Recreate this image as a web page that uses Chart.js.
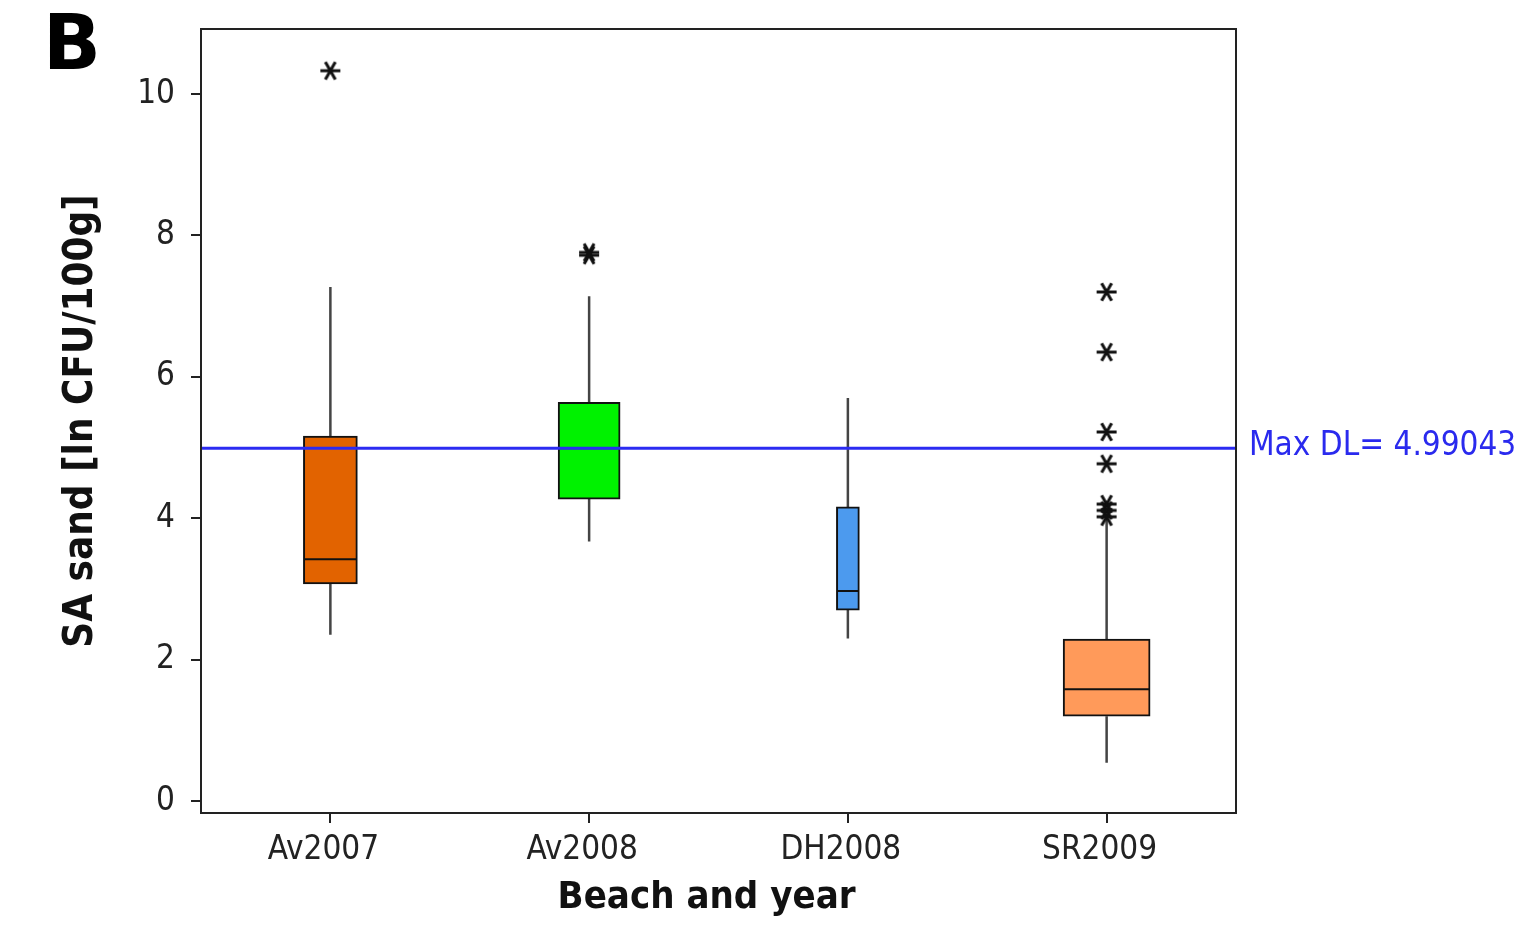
<!DOCTYPE html>
<html>
<head>
<meta charset="utf-8">
<script src="https://cdn.jsdelivr.net/npm/chart.js@4.4.0/dist/chart.umd.min.js"></script>
<style>
  html, body { margin: 0; padding: 0; background: #fff; }
  #wrap { width: 1536px; height: 925px; }
</style>
</head>
<body>
<div id="wrap"><canvas id="boxChart"></canvas></div>
<script>
// box plot values (ln CFU/100g) per beach and year
const categories = ['Av2007', 'Av2008', 'DH2008', 'SR2009'];
const whiskerLow = [2.35, 3.67, 2.30, 0.54];
const q1 = [3.07, 4.27, 2.70, 1.20];
const median = [3.42, 4.99, 2.97, 1.58];
const q3 = [5.16, 5.64, 4.16, 2.29];
const whiskerHigh = [7.27, 7.14, 5.70, 3.99];
const outlierCats = ['Av2007', 'Av2008', 'Av2008', 'SR2009', 'SR2009', 'SR2009', 'SR2009', 'SR2009', 'SR2009', 'SR2009'];
const outlierValues = [10.33, 7.76, 7.72, 7.20, 6.35, 5.22, 4.77, 4.20, 4.11, 4.02];
const maxDL = 4.99043;
const yTicks = [0, 2, 4, 6, 8, 10];

// styling
const boxColors = ['#e26300', '#00f200', '#4c9aee', '#ff9a5a'];
const boxThickness = [54, 62, 23, 87];
const fontFamily = "'DejaVu Sans Condensed', 'DejaVu Sans', sans-serif";
const ink = '#222';

// little 6-armed asterisk used for outliers
function makeAsterisk(size) {
    const c = document.createElement('canvas');
    c.width = size;
    c.height = size;
    const g = c.getContext('2d');
    g.strokeStyle = '#111';
    g.lineWidth = 3;
    const r = size / 2 - 2;
    for (let k = 0; k < 3; k++) {
        const a = k * Math.PI / 3;
        g.beginPath();
        g.moveTo(size / 2 - r * Math.cos(a), size / 2 - r * Math.sin(a));
        g.lineTo(size / 2 + r * Math.cos(a), size / 2 + r * Math.sin(a));
        g.stroke();
    }
    return c;
}

const boxDatasets = categories.map((cat, i) => ({
    type: 'bar',
    label: cat,
    data: categories.map((c, j) => j === i ? [q1[i], q3[i]] : null),
    backgroundColor: boxColors[i],
    borderColor: '#111',
    borderWidth: 2,
    borderSkipped: false,
    barThickness: boxThickness[i],
    grouped: false
}));

const outlierData = outlierCats.map((c, i) => ({ x: c, y: outlierValues[i] }));

// whiskers, medians, detection-limit line, frame and panel letter
const boxParts = {
    id: 'boxParts',
    beforeDatasetsDraw(chart) {
        const { ctx, scales: { x, y } } = chart;
        ctx.save();
        ctx.strokeStyle = '#444';
        ctx.lineWidth = 2.5;
        categories.forEach((c, i) => {
            const px = x.getPixelForValue(i);
            ctx.beginPath();
            ctx.moveTo(px, y.getPixelForValue(whiskerLow[i]));
            ctx.lineTo(px, y.getPixelForValue(q1[i]));
            ctx.moveTo(px, y.getPixelForValue(q3[i]));
            ctx.lineTo(px, y.getPixelForValue(whiskerHigh[i]));
            ctx.stroke();
        });
        ctx.restore();
    },
    afterDatasetDraw(chart, args) {
        if (args.index !== 1) return;
        const { ctx, chartArea, scales: { x, y } } = chart;
        ctx.save();
        ctx.strokeStyle = '#111';
        ctx.lineWidth = 2;
        categories.forEach((c, i) => {
            const px = x.getPixelForValue(i);
            const py = y.getPixelForValue(median[i]);
            ctx.beginPath();
            ctx.moveTo(px - boxThickness[i] / 2 + 1, py);
            ctx.lineTo(px + boxThickness[i] / 2 - 1, py);
            ctx.stroke();
        });
        const dy = y.getPixelForValue(maxDL);
        ctx.strokeStyle = '#2b2bf2';
        ctx.lineWidth = 3;
        ctx.beginPath();
        ctx.moveTo(chartArea.left, dy);
        ctx.lineTo(chartArea.right, dy);
        ctx.stroke();
        ctx.restore();
    },
    afterDraw(chart) {
        const { ctx, chartArea, scales: { y } } = chart;
        ctx.save();
        ctx.strokeStyle = ink;
        ctx.lineWidth = 2;
        ctx.strokeRect(chartArea.left, chartArea.top, chartArea.right - chartArea.left, chartArea.bottom - chartArea.top);
        ctx.fillStyle = '#2a2aee';
        ctx.font = "33px " + fontFamily;
        ctx.textAlign = 'left';
        ctx.textBaseline = 'middle';
        ctx.fillText('Max DL= ' + maxDL, chartArea.right + 13, y.getPixelForValue(maxDL) - 2);
        ctx.fillStyle = '#000';
        ctx.font = "bold 76px 'DejaVu Sans', sans-serif";
        ctx.textBaseline = 'alphabetic';
        ctx.fillText('B', 43, 69);
        ctx.restore();
    }
};

const ctx = document.getElementById('boxChart').getContext('2d');
const boxChart = new Chart(ctx, {
    data: {
        labels: categories,
        datasets: [{
            type: 'line',
            label: 'Outliers',
            data: outlierData,
            showLine: false,
            pointStyle: makeAsterisk(24),
            pointRadius: 12
        }].concat(boxDatasets)
    },
    options: {
        responsive: true,
        maintainAspectRatio: false,
        animation: false,
        layout: {
            padding: { left: 0, right: 300, top: 29, bottom: 0 }
        },
        plugins: {
            legend: { display: false },
            tooltip: { enabled: false }
        },
        scales: {
            x: {
                type: 'category',
                offset: true,
                grid: {
                    offset: false,
                    drawOnChartArea: false,
                    drawTicks: true,
                    tickLength: 10,
                    color: ink,
                    lineWidth: 2
                },
                border: { display: true, color: ink, width: 2 },
                ticks: {
                    color: ink,
                    padding: 8,
                    labelOffset: -7,
                    font: { size: 33, family: fontFamily }
                },
                title: {
                    display: true,
                    text: 'Beach and year  ',
                    color: '#111',
                    padding: { top: 0, bottom: 4 },
                    font: { size: 38, weight: 'bold', family: fontFamily }
                },
                afterFit: s => { s.height = 112; s.paddingLeft = 0; s.paddingRight = 0; }
            },
            y: {
                min: -0.17,
                max: 10.92,
                afterBuildTicks: s => { s.ticks = yTicks.map(v => ({ value: v })); },
                grid: {
                    drawOnChartArea: false,
                    drawTicks: true,
                    tickLength: 10,
                    color: ink,
                    lineWidth: 2
                },
                border: { display: true, color: ink, width: 2 },
                ticks: {
                    color: ink,
                    padding: 16,
                    font: { size: 33, family: fontFamily }
                },
                title: {
                    display: true,
                    text: 'SA sand [ln CFU/100g]',
                    color: '#111',
                    padding: { top: 58, bottom: 0 },
                    font: { size: 40, weight: 'bold', family: fontFamily }
                },
                afterFit: s => { s.width = 201; s.paddingTop = 0; s.paddingBottom = 0; }
            }
        }
    },
    plugins: [boxParts]
});
</script>
</body>
</html>
